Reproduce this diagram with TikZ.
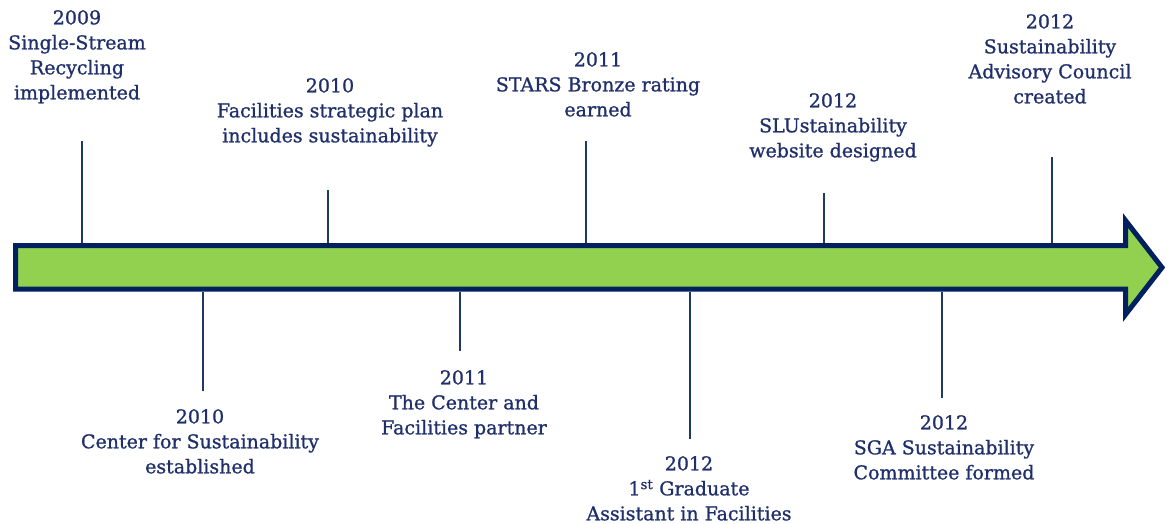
\documentclass[tikz,border=0pt]{standalone}
\usepackage{fontspec}
\setmainfont[FakeBold=1]{DejaVu Serif}
\definecolor{txt}{HTML}{1F2F6B}
\definecolor{edge}{HTML}{002060}
\definecolor{tick}{HTML}{1F3864}
\definecolor{lime}{HTML}{92D050}
\tikzset{
  lbl/.style={text=txt, align=center, anchor=north, inner sep=0pt, font=\fontsize{19}{25}\selectfont},
  tickline/.style={draw=tick, line width=2pt},
  body/.style={draw=edge, fill=lime, line width=5pt, line join=miter}
}
\begin{document}
\begin{tikzpicture}[x=1pt,y=-1pt]
\useasboundingbox (0,0) rectangle (1167,523);
\draw[body] (15.5,245.7) -- (1125.5,245.7) -- (1125.5,220.5) -- (1162,267.5) -- (1125.5,314.5) -- (1125.5,289.2) -- (15.5,289.2) -- cycle;
% ticks above
\coordinate (a1t) at (82,141); \coordinate (a1b) at (82,243);
\coordinate (a2t) at (328,190); \coordinate (a2b) at (328,243);
\coordinate (a3t) at (586,141); \coordinate (a3b) at (586,243);
\coordinate (a4t) at (824,193); \coordinate (a4b) at (824,243);
\coordinate (a5t) at (1052,157); \coordinate (a5b) at (1052,243);
% ticks below
\coordinate (b1t) at (203,292); \coordinate (b1b) at (203,391);
\coordinate (b2t) at (460,292); \coordinate (b2b) at (460,351);
\coordinate (b3t) at (690,292); \coordinate (b3b) at (690,439);
\coordinate (b4t) at (942,292); \coordinate (b4b) at (942,398);
\foreach \p in {a1,a2,a3,a4,a5,b1,b2,b3,b4} \draw[tickline] (\p t) -- (\p b);
% labels
\node[lbl] (l1) at (77,10) {2009\\Single-Stream\\Recycling\\implemented};
\node[lbl] (l2) at (330,78) {2010\\Facilities strategic plan\\includes sustainability};
\node[lbl] (l3) at (598,52) {2011\\STARS Bronze rating\\earned};
\node[lbl] (l4) at (833,93) {2012\\SLUstainability\\website designed};
\node[lbl] (l5) at (1050,14) {2012\\Sustainability\\Advisory Council\\created};
\node[lbl] (l6) at (200,409) {2010\\Center for Sustainability\\established};
\node[lbl] (l7) at (464,370) {2011\\The Center and\\Facilities partner};
\node[lbl] (l8) at (689,456) {2012\\1\textsuperscript{st} Graduate\\Assistant in Facilities};
\node[lbl] (l9) at (944,415) {2012\\SGA Sustainability\\Committee formed};
\end{tikzpicture}
\end{document}
